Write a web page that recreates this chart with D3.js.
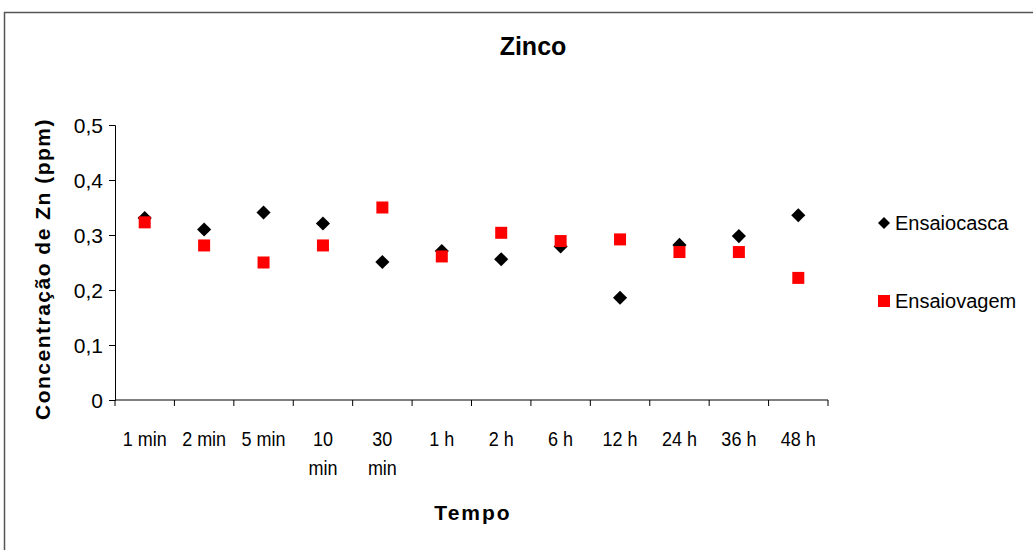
<!DOCTYPE html>
<html>
<head>
<meta charset="utf-8">
<style>
  body { margin: 0; background: #fff; }
  svg text { font-family: "Liberation Sans", Arial, sans-serif; fill: #000; }
</style>
<script src="https://cdn.jsdelivr.net/npm/d3@7"></script>
</head>
<body>
<svg id="chart" width="1033" height="550"></svg>
<script>
var categories = ["1 min", "2 min", "5 min", "10 min", "30 min", "1 h", "2 h", "6 h", "12 h", "24 h", "36 h", "48 h"];
var casca = [0.331, 0.310, 0.341, 0.321, 0.251, 0.271, 0.256, 0.279, 0.186, 0.282, 0.298, 0.336];
var vagem = [0.323, 0.281, 0.250, 0.281, 0.350, 0.261, 0.304, 0.289, 0.292, 0.269, 0.269, 0.222];
var yTicks = [0, 0.1, 0.2, 0.3, 0.4, 0.5];

var svg = d3.select("#chart");

// outer frame (only top and left visible)
svg.append("path")
  .attr("d", "M4.5,550 L4.5,12.5 L1033,12.5")
  .attr("fill", "none")
  .attr("stroke", "#555")
  .attr("stroke-width", 1.5);

var x = d3.scaleBand().domain(categories).range([115, 828]);
var y = d3.scaleLinear().domain([0, 0.5]).range([400, 125]);

// y axis
var yAxis = svg.append("g")
  .attr("transform", "translate(115,0)")
  .call(d3.axisLeft(y).tickValues(yTicks).tickSize(6).tickPadding(6)
    .tickFormat(function(d) { return d3.format(".1f")(d).replace(".", ",").replace(/^0,0$/, "0"); }));
yAxis.select(".domain").attr("stroke", "#000");
yAxis.selectAll("text").style("font-size", "21px").attr("dy", "0.36em");

// x axis
var xAxis = svg.append("g")
  .attr("transform", "translate(0,400)");
xAxis.append("line")
  .attr("x1", 115).attr("x2", 828)
  .attr("stroke", "#000");
xAxis.selectAll(".tk")
  .data(categories.concat(["end"]))
  .enter().append("line")
  .attr("x1", function(d, i) { return i < categories.length ? x(d) : x.range()[1]; })
  .attr("x2", function(d, i) { return i < categories.length ? x(d) : x.range()[1]; })
  .attr("y1", 0).attr("y2", 6)
  .attr("stroke", "#000");

xAxis.selectAll(".lbl")
  .data(categories)
  .enter().append("text")
  .attr("text-anchor", "middle")
  .style("font-size", "20px")
  .attr("transform", function(d) { return "translate(" + (x(d) + x.bandwidth() / 2) + ",46) scale(0.9,1)"; })
  .each(function(d) {
    var t = d3.select(this);
    var parts = d.split(" ");
    if (d === "10 min" || d === "30 min") {
      t.append("tspan").attr("x", 0).attr("y", 0).text(parts[0]);
      t.append("tspan").attr("x", 0).attr("y", 29).text(parts[1]);
    } else {
      t.append("tspan").attr("x", 0).attr("y", 0).text(d);
    }
  });

// titles
svg.append("text")
  .attr("x", 533).attr("y", 55)
  .attr("text-anchor", "middle")
  .style("font-size", "25px").style("font-weight", "bold")
  .text("Zinco");

svg.append("text")
  .attr("x", 473).attr("y", 520)
  .attr("text-anchor", "middle")
  .style("font-size", "21px").style("font-weight", "bold")
  .style("letter-spacing", "2px")
  .text("Tempo");

svg.append("text")
  .attr("transform", "translate(50,269) rotate(-90)")
  .attr("text-anchor", "middle")
  .style("font-size", "21px").style("font-weight", "bold")
  .style("letter-spacing", "1.5px")
  .text("Concentração de Zn (ppm)");

var diamond = d3.symbol().type(d3.symbolSquare).size(100);
var cx = function(d, i) { return x(categories[i]) + x.bandwidth() / 2; };

svg.append("g").selectAll("path")
  .data(casca)
  .enter().append("path")
  .attr("d", diamond)
  .attr("fill", "#000")
  .attr("transform", function(d, i) { return "translate(" + cx(d, i) + "," + y(d) + ") rotate(45)"; });

svg.append("g").selectAll("rect")
  .data(vagem)
  .enter().append("rect")
  .attr("x", function(d, i) { return cx(d, i) - 6; })
  .attr("y", function(d) { return y(d) - 6; })
  .attr("width", 12).attr("height", 12)
  .attr("fill", "#ff0000");

// legend
var legend = [
  { name: "Ensaiocasca", y: 223, type: "diamond" },
  { name: "Ensaiovagem", y: 301, type: "square" }
];
var lg = svg.append("g").selectAll("g")
  .data(legend)
  .enter().append("g")
  .attr("transform", function(d) { return "translate(884," + d.y + ")"; });
lg.each(function(d) {
  var g = d3.select(this);
  if (d.type === "diamond") {
    g.append("path").attr("d", d3.symbol().type(d3.symbolSquare).size(72)).attr("transform", "rotate(45)").attr("fill", "#000");
  } else {
    g.append("rect").attr("x", -6).attr("y", -6).attr("width", 12).attr("height", 12).attr("fill", "#ff0000");
  }
  g.append("text").attr("x", 11).attr("y", 7).style("font-size", "20px").text(d.name);
});
</script>
</body>
</html>
